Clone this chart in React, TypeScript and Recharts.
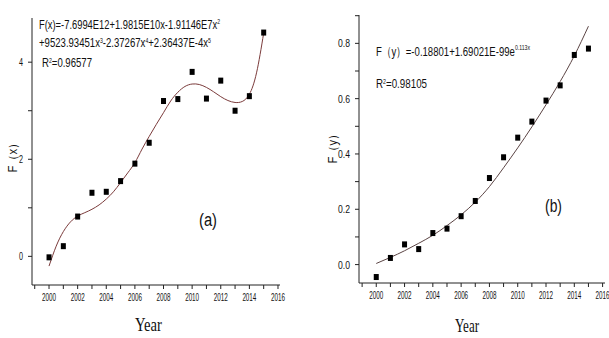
import React from 'react';
import { ComposedChart, Line, Scatter, XAxis, YAxis } from 'recharts';

const years = [2000, 2001, 2002, 2003, 2004, 2005, 2006, 2007, 2008, 2009, 2010, 2011, 2012, 2013, 2014, 2015];
const valuesA = [-0.02, 0.21, 0.82, 1.31, 1.33, 1.55, 1.91, 2.34, 3.2, 3.24, 3.8, 3.25, 3.62, 3.0, 3.3, 4.61];
const valuesB = [-0.045, 0.024, 0.073, 0.056, 0.114, 0.13, 0.175, 0.23, 0.313, 0.388, 0.459, 0.517, 0.593, 0.648, 0.758, 0.781];

const fitYearsA = [2000, 2000.5, 2001, 2001.5, 2002, 2002.5, 2003, 2003.5, 2004, 2004.5, 2005, 2005.5, 2006, 2006.5, 2007, 2007.5, 2008, 2008.5, 2009, 2009.5, 2010, 2010.5, 2011, 2011.5, 2012, 2012.5, 2013, 2013.5, 2014, 2014.5, 2015];
const fitValuesA = [-0.2, 0.21, 0.51, 0.71, 0.83, 0.9, 0.97, 1.06, 1.18, 1.33, 1.52, 1.72, 1.93, 2.21, 2.47, 2.72, 2.96, 3.2, 3.38, 3.5, 3.55, 3.54, 3.48, 3.39, 3.29, 3.21, 3.17, 3.19, 3.34, 3.78, 4.6];
const fitYearsB = [2000, 2001, 2002, 2003, 2004, 2005, 2006, 2007, 2008, 2009, 2010, 2011, 2012, 2013, 2014, 2015];
const fitValuesB = [0.004, 0.026, 0.05, 0.077, 0.106, 0.141, 0.18, 0.226, 0.282, 0.35, 0.422, 0.498, 0.578, 0.662, 0.755, 0.862];

const xTicks = [1999, 2000, 2001, 2002, 2003, 2004, 2005, 2006, 2007, 2008, 2009, 2010, 2011, 2012, 2013, 2014, 2015, 2016];
const yTicksA = [0, 1, 2, 3, 4];
const yTicksB = [0, 0.1, 0.2, 0.3, 0.4, 0.5, 0.6, 0.7, 0.8, 0.9];
const yMajorA = [0, 2, 4];
const yMajorB = [0, 0.2, 0.4, 0.6, 0.8];

const ptsA = years.map((x, i) => ({ x, y: valuesA[i] }));
const ptsB = years.map((x, i) => ({ x, y: valuesB[i] }));
const fitA = fitYearsA.map((x, i) => ({ x, y: fitValuesA[i] }));
const fitB = fitYearsB.map((x, i) => ({ x, y: fitValuesB[i] }));

const NARROW = '"Liberation Sans Narrow", "Arial Narrow", "Liberation Sans", sans-serif';

const XTick = (props: any) => {
  const { x, y, payload } = props;
  if (payload.value % 2 !== 0) return null;
  return (
    <text x={x} y={y} dy={10} textAnchor="middle" fontSize={11} fontFamily={NARROW} fill="#111"
      textLength={14} lengthAdjust="spacingAndGlyphs">{payload.value}</text>
  );
};

const makeYTick = (majors: number[], digits: number, len: number) => (props: any) => {
  const { x, y, payload } = props;
  const v = payload.value;
  if (!majors.some((m) => Math.abs(m - v) < 1e-6)) return null;
  return (
    <text x={x} y={y} dy={4} textAnchor="end" fontSize={11} fontFamily={NARROW} fill="#111"
      textLength={len} lengthAdjust="spacingAndGlyphs">{v.toFixed(digits)}</text>
  );
};

const YTickA = makeYTick(yMajorA, 0, 4);
const YTickB = makeYTick(yMajorB, 1, 12);

const Square = (props: any) => {
  const { cx, cy } = props;
  return <rect x={cx - 2.5} y={cy - 3} width={5} height={6} fill="#000" />;
};

const axisStroke = '#222';

export default function App() {
  return (
    <div style={{ position: 'absolute', left: 0, top: 0, width: 609, height: 338, background: '#fff' }}>
      <div style={{ position: 'absolute', left: 0, top: 0 }}>
        <ComposedChart width={300} height={338} margin={{ top: 18, right: 20, bottom: 0, left: 0 }}>
          <XAxis type="number" dataKey="x" domain={[1998.81, 2016.14]} ticks={xTicks} interval={0}
            allowDataOverflow height={53} stroke={axisStroke} tickSize={4} tickMargin={2} tick={<XTick />} />
          <YAxis type="number" dataKey="y" domain={[-0.59, 4.91]} ticks={yTicksA} interval={0}
            allowDataOverflow width={32} stroke={axisStroke} tickSize={4} tickMargin={5} tick={<YTickA />} />
          <Line data={fitA} dataKey="y" type="natural" stroke="#7b3b3b" strokeWidth={1} dot={false}
            isAnimationActive={false} />
          <Scatter data={ptsA} dataKey="y" shape={<Square />} isAnimationActive={false} />
        </ComposedChart>
      </div>
      <div style={{ position: 'absolute', left: 300, top: 0 }}>
        <ComposedChart width={309} height={338} margin={{ top: 15, right: 4, bottom: 0, left: 0 }}>
          <XAxis type="number" dataKey="x" domain={[1998.78, 2016.17]} ticks={xTicks} interval={0}
            allowDataOverflow height={55} stroke={axisStroke} tickSize={4} tickMargin={2} tick={<XTick />} />
          <YAxis type="number" dataKey="y" domain={[-0.0666, 0.9025]} ticks={yTicksB} interval={0}
            allowDataOverflow width={59} stroke={axisStroke} tickSize={4} tickMargin={5} tick={<YTickB />} />
          <Line data={fitB} dataKey="y" type="natural" stroke="#5b4444" strokeWidth={1} dot={false}
            isAnimationActive={false} />
          <Scatter data={ptsB} dataKey="y" shape={<Square />} isAnimationActive={false} />
        </ComposedChart>
      </div>
      <svg width={609} height={338} style={{ position: 'absolute', left: 0, top: 0, pointerEvents: 'none' }}>
        <g fontFamily={NARROW} fill="#111">
          <text x={39} y={29} fontSize={13} textLength={181} lengthAdjust="spacingAndGlyphs">
            F(x)=-7.6994E12+1.9815E10x-1.91146E7x<tspan dy={-5} fontSize={7}>2</tspan>
          </text>
          <text x={39} y={47} fontSize={13} textLength={172} lengthAdjust="spacingAndGlyphs">
            +9523.93451x<tspan dy={-4} fontSize={7}>3</tspan><tspan dy={4}>-2.37267x</tspan><tspan dy={-4} fontSize={7}>4</tspan><tspan dy={4}>+2.36437E-4x</tspan><tspan dy={-4} fontSize={7}>5</tspan>
          </text>
          <text x={42} y={67} fontSize={13} textLength={50} lengthAdjust="spacingAndGlyphs">
            R<tspan dy={-4} fontSize={7}>2</tspan><tspan dy={4}>=0.96577</tspan>
          </text>
          <text x={376} y={56} fontSize={13} textLength={154} lengthAdjust="spacingAndGlyphs">
            F（y）=-0.18801+1.69021E-99e<tspan dy={-6} fontSize={7}>0.113x</tspan>
          </text>
          <text x={376} y={88} fontSize={13} textLength={51} lengthAdjust="spacingAndGlyphs">
            R<tspan dy={-4} fontSize={7}>2</tspan><tspan dy={4}>=0.98105</tspan>
          </text>
          <text x={208} y={226} fontSize={18} textAnchor="middle" textLength={18} lengthAdjust="spacingAndGlyphs">(a)</text>
          <text x={553.5} y={212} fontSize={18} textAnchor="middle" textLength={17} lengthAdjust="spacingAndGlyphs">(b)</text>
          <text transform="translate(17,155) rotate(-90)" fontSize={12} textAnchor="middle" textLength={35} lengthAdjust="spacingAndGlyphs">F（x）</text>
          <text transform="translate(337,146) rotate(-90)" fontSize={12} textAnchor="middle" textLength={35} lengthAdjust="spacingAndGlyphs">F（y）</text>
        </g>
        <g fontFamily='"Liberation Serif", "Times New Roman", serif' fill="#111">
          <text x={148.5} y={331} fontSize={19} textAnchor="middle" textLength={27} lengthAdjust="spacingAndGlyphs">Year</text>
          <text x={467} y={332} fontSize={19} textAnchor="middle" textLength={24} lengthAdjust="spacingAndGlyphs">Year</text>
        </g>
      </svg>
    </div>
  );
}
